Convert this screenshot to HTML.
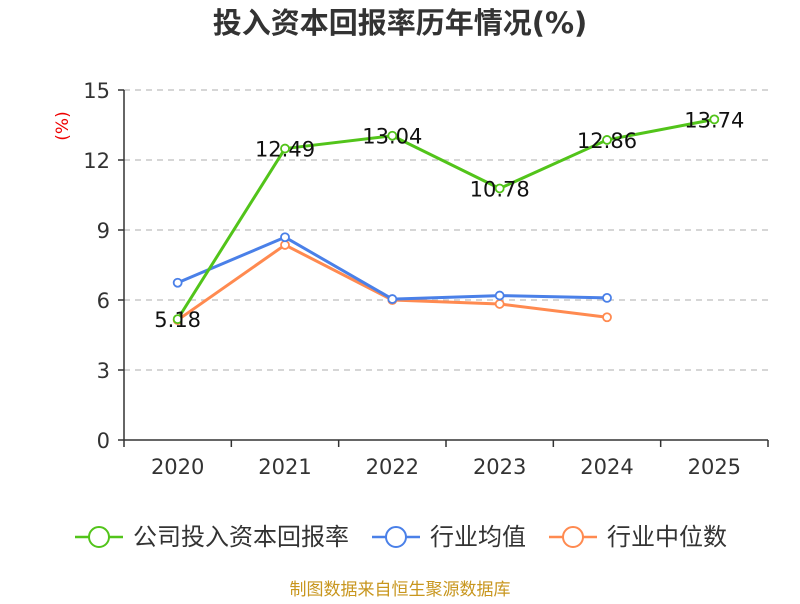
<!DOCTYPE html>
<html><head><meta charset="utf-8"><style>
body{margin:0;background:#fff;font-family:"DejaVu Sans","Noto Sans CJK SC",sans-serif}
</style></head><body>
<svg id="c" width="800" height="600" xmlns="http://www.w3.org/2000/svg" font-family="DejaVu Sans, Noto Sans CJK SC, sans-serif">
<text x="400" y="33" text-anchor="middle" font-size="29" font-weight="bold" fill="#333">投入资本回报率历年情况(%)</text>
<text transform="translate(68,126) rotate(-90)" text-anchor="middle" font-size="17" fill="#e00">(%)</text>
<text x="400" y="595" text-anchor="middle" font-size="17" fill="#c8961e">制图数据来自恒生聚源数据库</text>
<g id="grid"></g><g id="axes"></g><g id="series"></g><g id="legend"></g>
</svg>
<script>
const categories=["2020","2021","2022","2023","2024","2025"];
const yTicks=[0,3,6,9,12,15];
const companyVals=[5.18,12.49,13.04,10.78,12.86,13.74];
const industryAvg=[6.74,8.69,6.04,6.19,6.09];
const industryMed=[5.14,8.36,6.0,5.83,5.26];
const ns="http://www.w3.org/2000/svg";
const L=124,R=768,T=90,B=440;
const bw=(R-L)/categories.length;
const x=i=>L+bw*(i+0.5);
const y=v=>B-(v/15)*(B-T);
function mk(tag,attrs,parent){const e=document.createElementNS(ns,tag);for(const k in attrs)e.setAttribute(k,attrs[k]);parent.appendChild(e);return e;}
const grid=document.getElementById('grid'),axes=document.getElementById('axes'),ser=document.getElementById('series'),leg=document.getElementById('legend');
yTicks.forEach(t=>{
 if(t>0){const g=mk('line',{x1:L,x2:R,y1:y(t),y2:y(t),stroke:'#c8c8c8','stroke-dasharray':'6,5','stroke-width':1.5},grid);
 
 }
 const tk=mk('line',{x1:L-6,x2:L,y1:y(t),y2:y(t),stroke:'#333','stroke-width':1.5},axes);
 
 
 const tx=mk('text',{x:L-14,y:y(t)+8,'text-anchor':'end','font-size':21,fill:'#333'},axes);tx.textContent=t;
 
 
});
const ya=mk('line',{x1:L,x2:L,y1:T,y2:B,stroke:'#333','stroke-width':1.5},axes);


const xa=mk('line',{x1:L,x2:R,y1:B,y2:B,stroke:'#333','stroke-width':1.5},axes);


for(let i=0;i<=categories.length;i++){const t=mk('line',{x1:L+bw*i,x2:L+bw*i,y1:B,y2:B+7,stroke:'#333','stroke-width':1.5},axes);
 
 }
categories.forEach((c,i)=>{const t=mk('text',{x:x(i),y:B+34,'text-anchor':'middle','font-size':21,fill:'#333'},axes);t.textContent=c;
 
 });
function series(vals,color,name,labels){
 const g=mk('g',{},ser);
 
 
 const p=mk('polyline',{points:vals.map((v,i)=>x(i)+','+y(v)).join(' '),fill:'none',stroke:color,'stroke-width':3,'stroke-linejoin':'round'},g);
 
 
 vals.forEach((v,i)=>{const c=mk('circle',{cx:x(i),cy:y(v),r:4,fill:'#fff',stroke:color,'stroke-width':1.8},g);
  
  
  if(labels){const t=mk('text',{x:x(i),y:y(v)+8,'text-anchor':'middle','font-size':21,fill:'#111'},g);t.textContent=v.toFixed(2);
  
  }
 });
}
series(industryMed,'#ff8a50','industry-median',false);
series(industryAvg,'#4a80e8','industry-average',false);
series(companyVals,'#52c41a','company-roic',true);
const items=[["公司投入资本回报率",'#52c41a',75],["行业均值",'#4a80e8',372],["行业中位数",'#ff8a50',549]];
items.forEach(([n,c,lx])=>{const g=mk('g',{},leg);
 
 
 mk('line',{x1:lx,x2:lx+48,y1:537,y2:537,stroke:c,'stroke-width':2.5},g);
 mk('circle',{cx:lx+24,cy:537,r:10,fill:'#fff',stroke:c,'stroke-width':2},g);
 const t=mk('text',{x:lx+58,y:545,'font-size':24,fill:'#333'},g);t.textContent=n;});
</script>
</body></html>
